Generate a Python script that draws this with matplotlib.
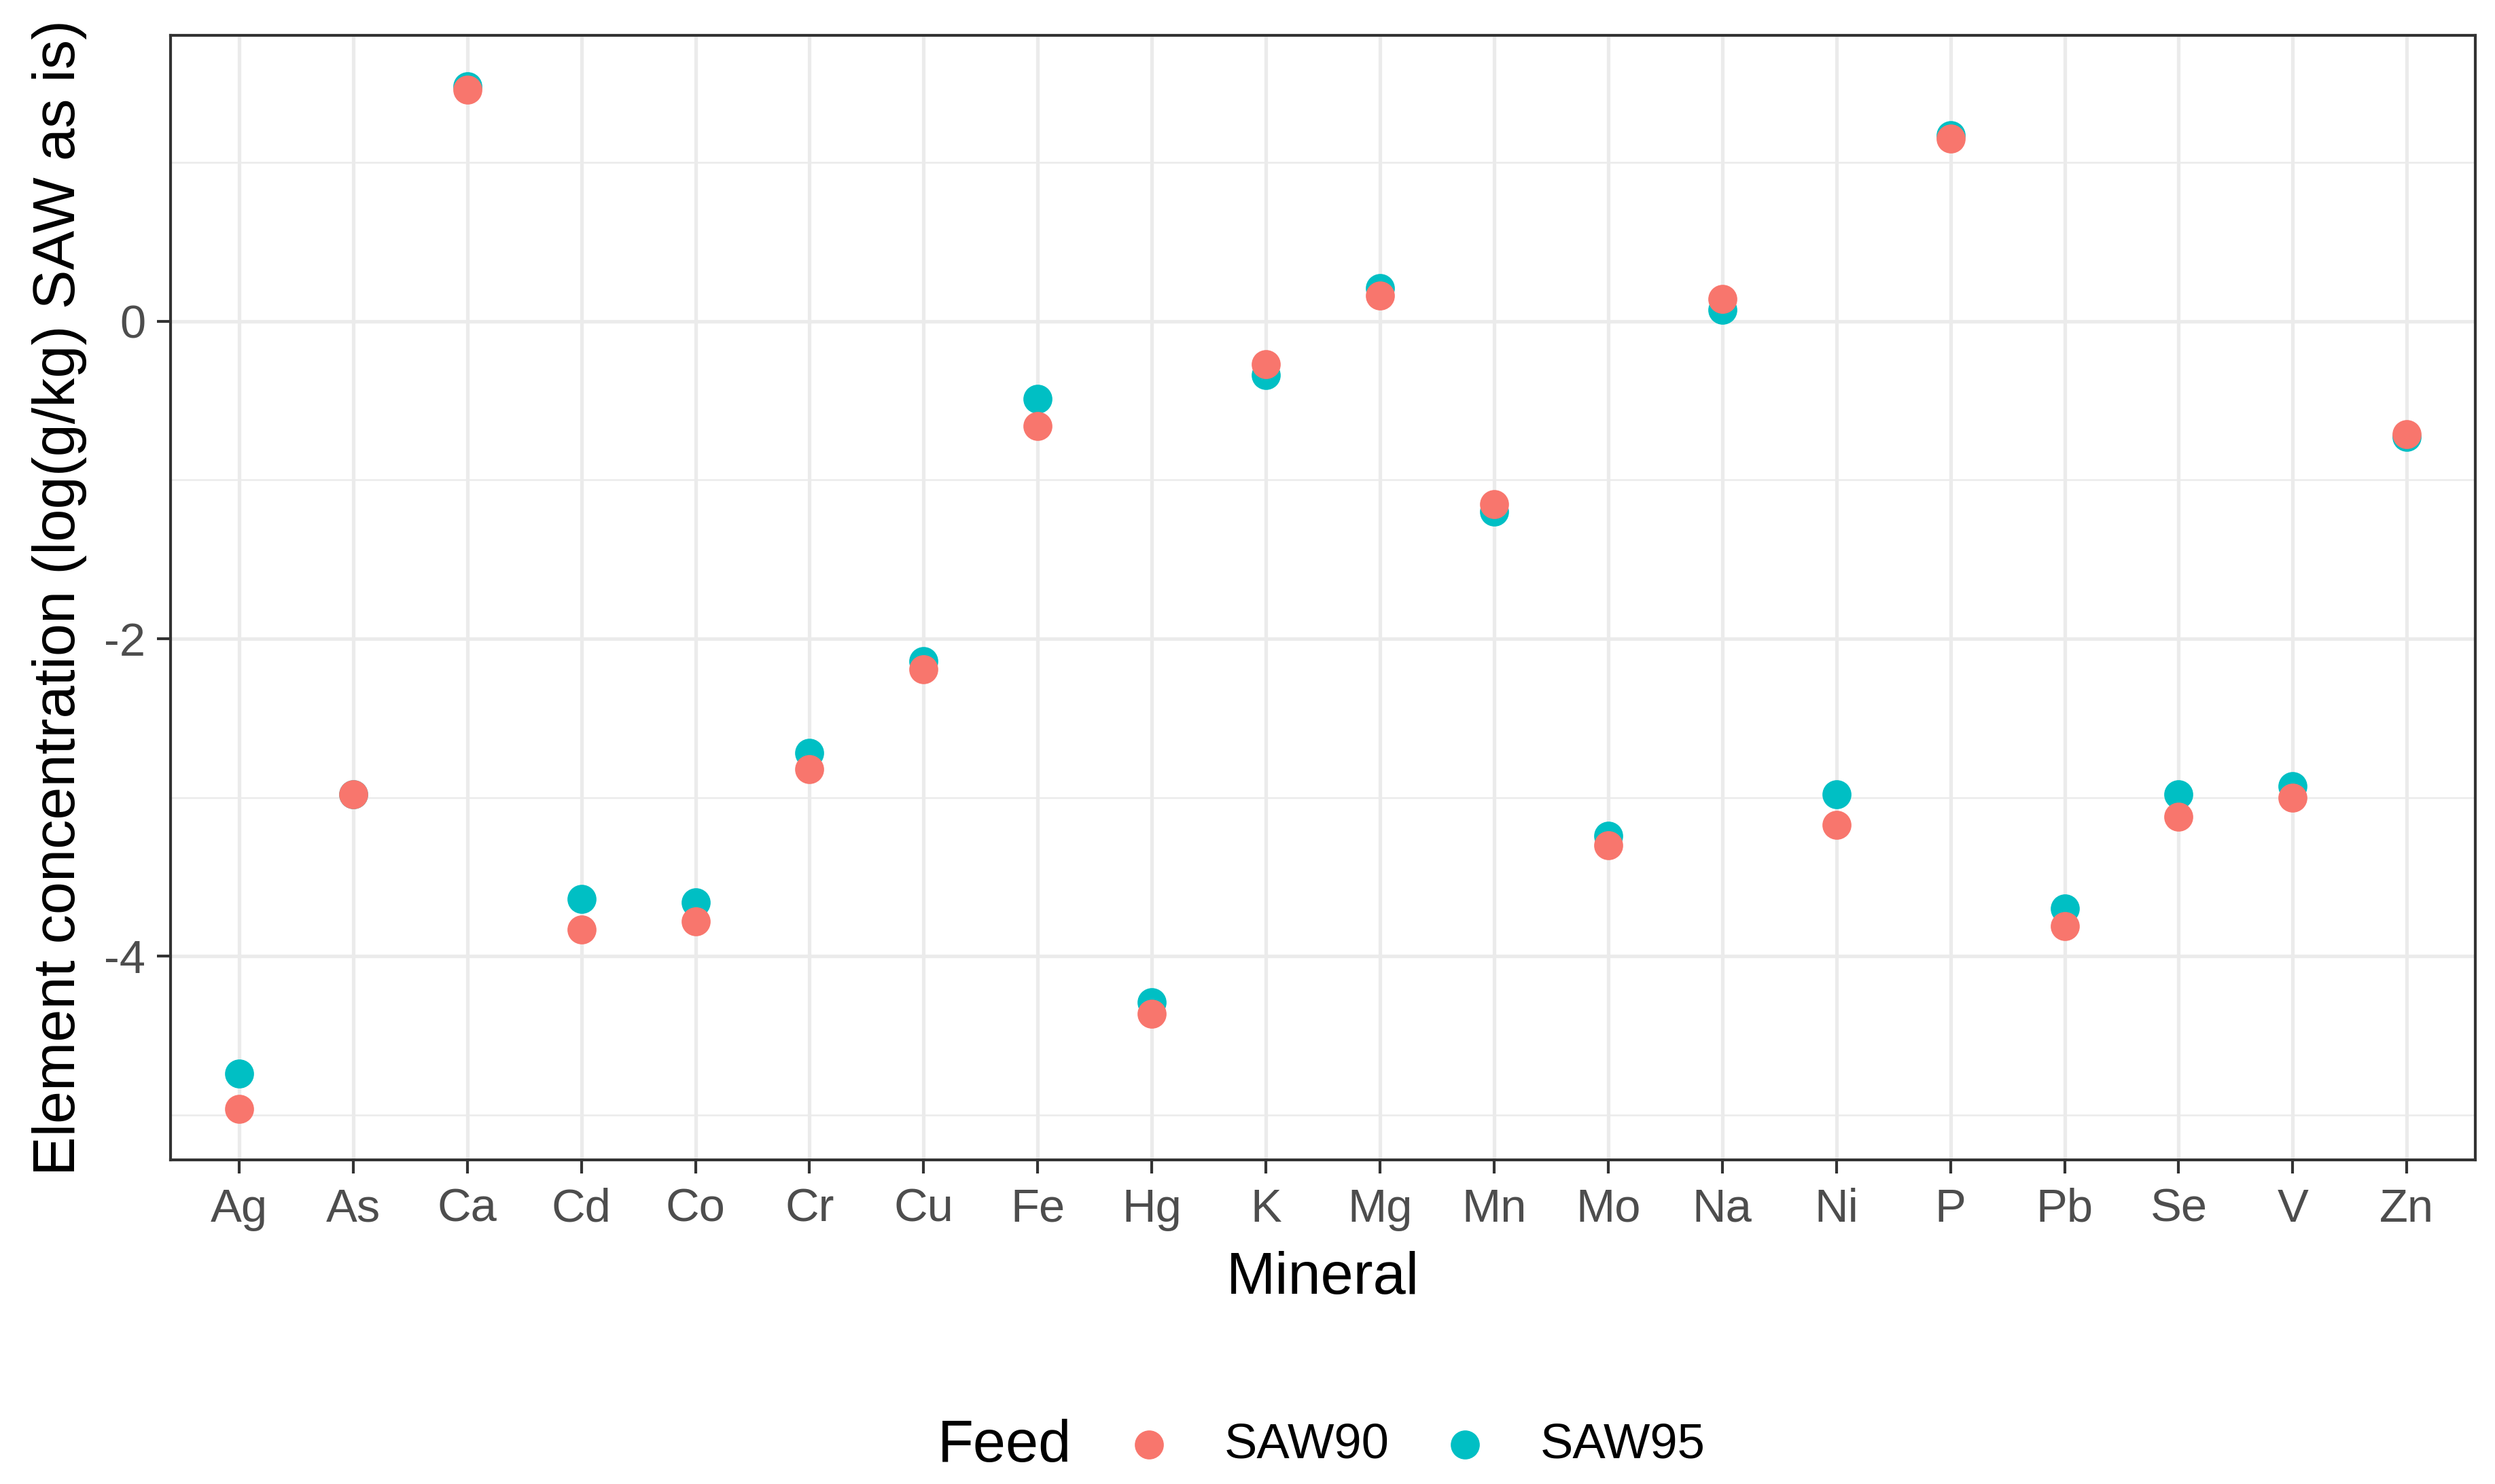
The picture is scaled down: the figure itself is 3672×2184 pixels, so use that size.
"""Element concentration by mineral for two SAW feeds (dot plot)."""
import matplotlib
matplotlib.use("Agg")
import matplotlib.pyplot as plt
import numpy as np

plt.rcParams['font.family'] = ['Liberation Sans', 'DejaVu Sans']

# Data
minerals = ["Ag", "As", "Ca", "Cd", "Co", "Cr", "Cu", "Fe", "Hg", "K",
            "Mg", "Mn", "Mo", "Na", "Ni", "P", "Pb", "Se", "V", "Zn"]
saw90 = [-4.96, -2.98, 1.46, -3.83, -3.78, -2.82, -2.19, -0.66, -4.36, -0.27,
         0.16, -1.15, -3.30, 0.14, -3.17, 1.15, -3.81, -3.12, -3.00, -0.71]
saw95 = [-4.74, -2.98, 1.48, -3.64, -3.66, -2.72, -2.14, -0.49, -4.29, -0.34,
         0.21, -1.20, -3.24, 0.07, -2.98, 1.17, -3.70, -2.98, -2.93, -0.73]
series_names = ["SAW90", "SAW95"]
y_ticks = [-4, -2, 0]
y_minor = [-5, -3, -1, 1]

RED = "#F8766D"
CYAN = "#00BFC4"
DARK = "#333333"
GRID = "#EBEBEB"

fig = plt.figure(figsize=(12.24, 7.28), dpi=300)
ax = fig.add_axes([0.0684, 0.2184, 0.9921 - 0.0684, 0.9763 - 0.2184])

x = np.arange(1, len(minerals) + 1)
h95 = ax.scatter(x, saw95, s=105, color=CYAN, linewidths=0, zorder=3, label=series_names[1])
h90 = ax.scatter(x, saw90, s=105, color=RED, linewidths=0, zorder=4, label=series_names[0])

ax.set_xlim(0.4, len(minerals) + 0.6)
lo = min(min(saw90), min(saw95))
hi = max(max(saw90), max(saw95))
pad = (hi - lo) * 0.05
ax.set_ylim(lo - pad, hi + pad)

ax.set_xticks(x)
ax.set_xticklabels(minerals)
ax.set_yticks(y_ticks)
ax.set_yticklabels([str(t) for t in y_ticks])
ax.set_yticks(y_minor, minor=True)
ax.tick_params(axis='y', which='minor', length=0)

ax.grid(True, which='major', color=GRID, linewidth=1.25, zorder=0)
ax.grid(True, which='minor', axis='y', color=GRID, linewidth=0.6, zorder=0)
ax.set_axisbelow(True)

for sp in ax.spines.values():
    sp.set_color(DARK)
    sp.set_linewidth(1.0)

ax.tick_params(axis='both', which='major', length=4.8, width=1.0, color=DARK,
               labelcolor="#4D4D4D", labelsize=16.5)
ax.tick_params(axis='x', pad=5)
ax.tick_params(axis='y', pad=4)

ax.set_xlabel("Mineral", fontsize=20.8, labelpad=7)
ax.set_ylabel("Element concentration (log(g/kg) SAW as is)", fontsize=20.8, labelpad=6)

# Legend at the bottom, ggplot-style
fig.text(1380 / 3672, 1 - 2128 / 2184, "Feed", fontsize=20.8, ha='left', va='center')
fig.legend(handles=[h90, h95], labels=series_names, loc='center left',
           bbox_to_anchor=(1655 / 3672, 1 - 2127 / 2184), ncol=2, frameon=False,
           fontsize=17.4, handlelength=1.0, handletextpad=1.03, columnspacing=1.03,
           borderpad=0, borderaxespad=0, markerscale=1.0)

fig.savefig("out.png", dpi=300)
